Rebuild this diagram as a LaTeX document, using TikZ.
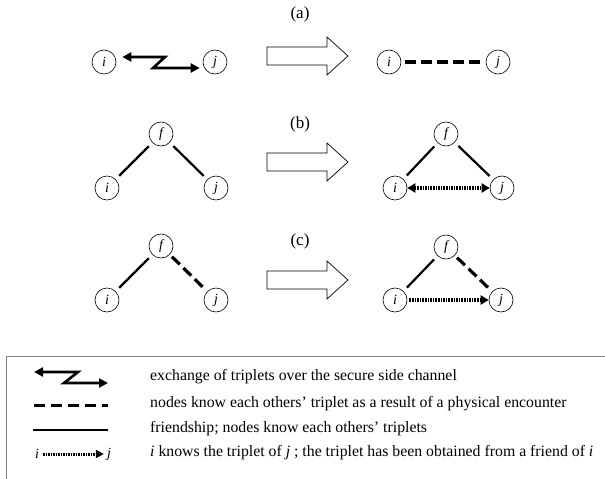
\documentclass[tikz,border=0pt]{standalone}
\usepackage{fontspec}
\setmainfont{Liberation Serif}
\usetikzlibrary{arrows.meta,calc}
\begin{document}
\begin{tikzpicture}[x=1pt,y=-1pt,
 nd/.style={circle,draw,line width=0.6pt,minimum size=24pt,inner sep=0pt,font=\fontsize{14}{14}\selectfont\itshape},
 fr/.style={line width=2.2pt,shorten <=5pt,shorten >=5pt},
 enc/.style={line width=3.2pt,dash pattern=on 11pt off 5pt,shorten <=4pt,shorten >=2pt},
 tri/.style={line width=3.4pt,dash pattern=on 1.6pt off 1pt},
 tipr/.style={-{Triangle[length=8pt,width=9pt]}},
 tipb/.style={{Triangle[length=8pt,width=9pt]}-{Triangle[length=8pt,width=9pt]}},
 zz/.style={line width=2.6pt,{Triangle[length=9pt,width=9pt]}-{Triangle[length=9pt,width=9pt]}},
 blk/.style={draw,line width=0.7pt,fill=white},
 lbl/.style={font=\fontsize{17}{17}\selectfont},
 leg/.style={font=\fontsize{15.8}{15.8}\selectfont,anchor=west,inner sep=0pt},
 legsym/.style={font=\fontsize{14}{14}\selectfont\itshape,inner sep=0pt}]
\useasboundingbox (0,0) rectangle (605,479);
\newcommand\blkarrow[1]{\draw[blk] (267,#1-9) -- (327,#1-9) -- (327,#1-19) -- (348,#1) -- (327,#1+19) -- (327,#1+9) -- (267,#1+9) -- cycle;}
% panel labels
\node[lbl] (la) at (300,14) {(a)};
\node[lbl] (lb) at (300,124) {(b)};
\node[lbl] (lc) at (300,241) {(c)};
\blkarrow{56}
\blkarrow{162}
\blkarrow{280}
% (a)
\node[nd] (ai) at (104,62) {i};
\node[nd] (aj) at (215,62) {j};
\node[nd] (ai2) at (389,62) {i};
\node[nd] (aj2) at (498,62) {j};
\coordinate (az1) at (165,57);
\coordinate (az2) at (153,68);
\draw[zz] ([xshift=6pt,yshift=5pt]ai.east) -- (az1) -- (az2) -- ([xshift=-3pt,yshift=-6pt]aj.west);
\draw[enc] (ai2) -- (aj2);
% (b)
\node[nd] (bf) at (161,134) {f};
\node[nd] (bi) at (107,188) {i};
\node[nd] (bj) at (216,188) {j};
\draw[fr] (bf) -- (bi);
\draw[fr] (bf) -- (bj);
\node[nd] (bf2) at (446,134) {f};
\node[nd] (bi2) at (395,188) {i};
\node[nd] (bj2) at (502,188) {j};
\draw[fr] (bf2) -- (bi2);
\draw[fr] (bf2) -- (bj2);
\draw[tri,tipb] (bi2) -- (bj2);
% (c)
\node[nd] (cf) at (161,246) {f};
\node[nd] (ci) at (107,300) {i};
\node[nd] (cj) at (216,300) {j};
\draw[fr] (cf) -- (ci);
\draw[enc,shorten <=3pt,shorten >=5pt] (cf) -- (cj);
\node[nd] (cf2) at (446,247) {f};
\node[nd] (ci2) at (395,300) {i};
\node[nd] (cj2) at (501,300) {j};
\draw[fr] (cf2) -- (ci2);
\draw[enc,shorten <=3pt,shorten >=5pt] (cf2) -- (cj2);
\draw[tri,tipr,shorten <=2pt] (ci2) -- (cj2);
% legend
\draw[gray,line width=1pt] (605,356) -- (6,356) -- (6,479);
\coordinate (z1) at (34,372);
\coordinate (z2) at (78,372);
\coordinate (z3) at (64,383);
\coordinate (z4) at (108,383);
\draw[zz] (z1) -- (z2) -- (z3) -- (z4);
\coordinate (d1) at (34,405);
\coordinate (d2) at (108,405);
\draw[line width=3pt,dash pattern=on 11pt off 6pt] (d1) -- (d2);
\coordinate (s1) at (33,430);
\coordinate (s2) at (108,430);
\draw[line width=2.2pt] (s1) -- (s2);
\node[legsym] (li) at (37,454) {i};
\node[legsym] (lj) at (109,454) {j};
\draw[line width=3pt,dash pattern=on 1.5pt off 1pt,-{Triangle[length=8pt,width=8pt]},shorten <=4pt,shorten >=3pt] (li) -- (lj);
\node[leg] (t1) at (150,377) {exchange of triplets over the secure side channel};
\node[leg] (t2) at (150,404) {nodes know each others' triplet as a result of a physical encounter};
\node[leg] (t3) at (150,429) {friendship; nodes know each others' triplets};
\node[leg] (t4) at (150,453) {\textit{i} knows the triplet of \textit{j} ; the triplet has been obtained from a friend of \textit{i}};
\end{tikzpicture}
\end{document}
